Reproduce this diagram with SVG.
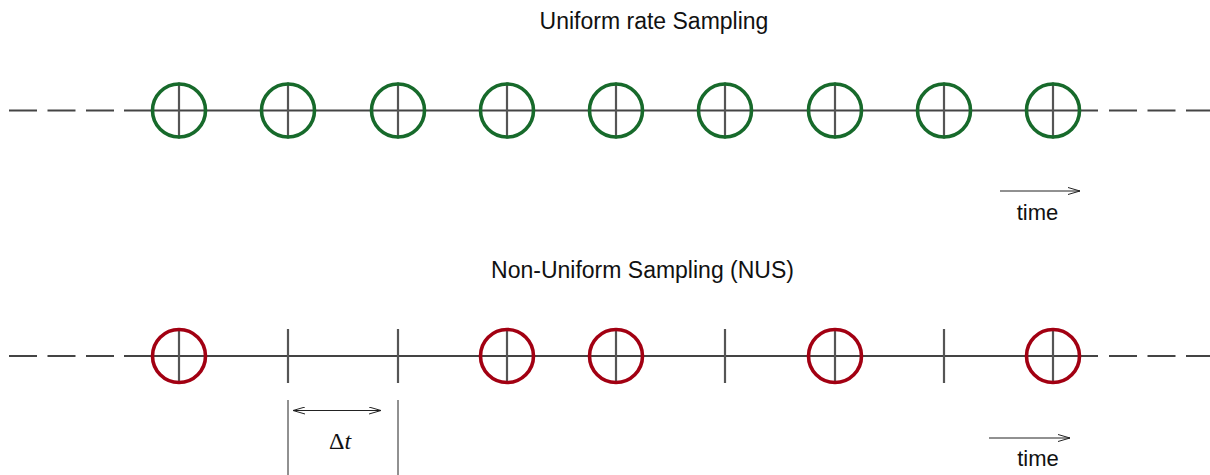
<svg xmlns="http://www.w3.org/2000/svg" width="1210" height="475" viewBox="0 0 1210 475">
<style>
.axis{stroke:#444;stroke-width:2.2;fill:none}
.dash{stroke:#444;stroke-width:2.2;stroke-dasharray:28,10.5;fill:none}
.cross{stroke:#555;stroke-width:2.2}
.g{fill:none;stroke:#176a2b;stroke-width:3.6}
.r{fill:none;stroke:#a20012;stroke-width:3.6}
.thin{stroke:#222;stroke-width:1;fill:none}
.lbl{font-family:"Liberation Sans",Arial,sans-serif;font-size:23px;fill:#111}
.tm{font-family:"Liberation Sans",Arial,sans-serif;font-size:22px;fill:#111}
</style>
<defs>
<marker id="ah" viewBox="0 0 12 8" refX="12" refY="4" markerWidth="12" markerHeight="8" markerUnits="userSpaceOnUse" orient="auto-start-reverse">
<path d="M0,0.5 L12,4 L0,7.5" fill="none" stroke="#222" stroke-width="1"/>
</marker>
<g id="gc"><line class="cross" x1="0" y1="-28" x2="0" y2="28"/><circle class="g" r="26.5"/></g>
<g id="rc"><line class="cross" x1="0" y1="-28" x2="0" y2="28"/><circle class="r" r="26.5"/></g>
</defs>
<g id="connectors">
<line class="dash" x1="9" y1="110.5" x2="124" y2="110.5"/>
<line class="axis" x1="124" y1="110.5" x2="1098" y2="110.5"/>
<line class="dash" x1="1109" y1="110.5" x2="1210" y2="110.5"/>
<line class="dash" x1="9" y1="356" x2="124" y2="356"/>
<line class="axis" x1="124" y1="356" x2="1098" y2="356"/>
<line class="dash" x1="1109" y1="356" x2="1210" y2="356"/>
<line class="thin" x1="1000" y1="191" x2="1080" y2="191" marker-end="url(#ah)"/>
<line class="thin" x1="989" y1="438" x2="1070" y2="438" marker-end="url(#ah)"/>
<line class="thin" x1="293" y1="410.5" x2="381" y2="410.5" marker-start="url(#ah)" marker-end="url(#ah)"/>
<line class="thin" x1="288" y1="400" x2="288" y2="475"/>
<line class="thin" x1="398" y1="400" x2="398" y2="475"/>
</g>
<g id="title-top"><text class="lbl" x="654" y="29" text-anchor="middle">Uniform rate Sampling</text></g>
<g id="title-bottom"><text class="lbl" x="642.5" y="278" text-anchor="middle">Non-Uniform Sampling (NUS)</text></g>
<g id="uniform-samples">
<use href="#gc" x="179" y="110.5"/>
<use href="#gc" x="288" y="110.5"/>
<use href="#gc" x="398" y="110.5"/>
<use href="#gc" x="507" y="110.5"/>
<use href="#gc" x="616" y="110.5"/>
<use href="#gc" x="725" y="110.5"/>
<use href="#gc" x="835" y="110.5"/>
<use href="#gc" x="944" y="110.5"/>
<use href="#gc" x="1053" y="110.5"/>
</g>
<g id="nus-samples">
<use href="#rc" x="179" y="356"/>
<use href="#rc" x="507" y="356"/>
<use href="#rc" x="616" y="356"/>
<use href="#rc" x="835" y="356"/>
<use href="#rc" x="1053" y="356"/>
</g>
<g id="nus-ticks">
<line class="cross" x1="288" y1="329" x2="288" y2="383"/>
<line class="cross" x1="398" y1="329" x2="398" y2="383"/>
<line class="cross" x1="725" y1="329" x2="725" y2="383"/>
<line class="cross" x1="944" y1="329" x2="944" y2="383"/>
</g>
<g id="time-top"><text class="tm" x="1037.5" y="220" text-anchor="middle">time</text></g>
<g id="time-bottom"><text class="tm" x="1038" y="466" text-anchor="middle">time</text></g>
<g id="delta-t"><text x="340" y="449" text-anchor="middle" font-family="'Liberation Serif','DejaVu Serif',serif" font-size="24" fill="#111">Δ<tspan font-style="italic">t</tspan></text></g>
</svg>
